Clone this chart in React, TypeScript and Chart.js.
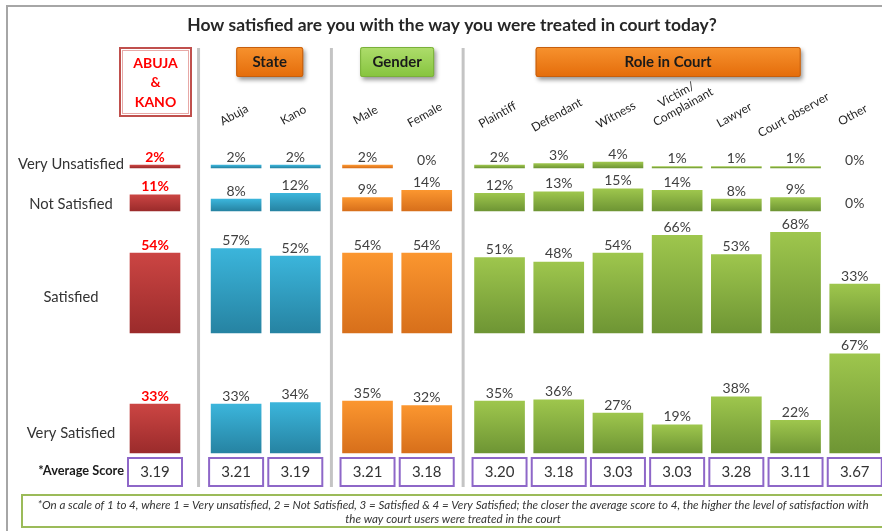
import React, { useEffect, useRef } from "react";
import { Chart, registerables } from "chart.js";

Chart.register(...registerables);

// ---------- data ----------
const title = "How satisfied are you with the way you were treated in court today?";
const groupNames = ["ABUJA\n&\nKANO", "State", "Gender", "Role in Court"];
const categories = [
  "ABUJA & KANO",
  "Abuja",
  "Kano",
  "Male",
  "Female",
  "Plaintiff",
  "Defendant",
  "Witness",
  "Victim/\nComplainant",
  "Lawyer",
  "Court observer",
  "Other",
];
const categoryGroup = [0, 1, 1, 2, 2, 3, 3, 3, 3, 3, 3, 3];
const rowLabels = ["Very Unsatisfied", "Not Satisfied", "Satisfied", "Very Satisfied"];
const veryUnsatisfied = [2, 2, 2, 2, 0, 2, 3, 4, 1, 1, 1, 0];
const notSatisfied = [11, 8, 12, 9, 14, 12, 13, 15, 14, 8, 9, 0];
const satisfied = [54, 57, 52, 54, 54, 51, 48, 54, 66, 53, 68, 33];
const verySatisfied = [33, 33, 34, 35, 32, 35, 36, 27, 19, 38, 22, 67];
const averageScores = ["3.19", "3.21", "3.19", "3.21", "3.18", "3.20", "3.18", "3.03", "3.03", "3.28", "3.11", "3.67"];
const averageLabel = "*Average Score";
const footnote = [
  "*On a scale of 1 to 4, where 1 = Very unsatisfied, 2 = Not Satisfied, 3 = Satisfied & 4 = Very Satisfied; the closer the average score to 4, the higher the level of satisfaction with",
  "the way court users were treated in the court",
];

const rows = [veryUnsatisfied, notSatisfied, satisfied, verySatisfied];

// ---------- layout / style ----------
const W = 882;
const H = 531;
const X_ORIGIN = 155;
const PX_PER_UNIT = 59.2;
const GROUP_GAP = [0, 0.37, 0.22, 0.23];
const PX_PER_PCT = 1.48;
const ROW_BASE = [168, 211, 333, 453];
const ROW_LABEL_Y = [164, 204, 297, 433];
const FONT = 'Lato, "Open Sans", sans-serif';
const BAR_COLORS = [
  ["#cb4543", "#9b2b2b"],
  ["#3bb5db", "#2683a2"],
  ["#fb962f", "#d76f1b"],
  ["#9ec64d", "#6e9534"],
];
const HEADER_W = [0, 67, 74, 265];
const HEADER_DX = [0, 4, 0, -9];

const xPositions = (() => {
  const out: number[] = [];
  let gap = 0;
  let prevG = 0;
  categories.forEach((_, i) => {
    const g = categoryGroup[i];
    if (g !== prevG) {
      for (let k = prevG + 1; k <= g; k++) gap += GROUP_GAP[k];
      prevG = g;
    }
    out.push(i + gap);
  });
  return out;
})();

function fitFont(ctx: CanvasRenderingContext2D, text: string, style: string, target: number) {
  ctx.font = `${style} 20px ${FONT}`;
  const w = ctx.measureText(text).width;
  const size = (20 * target) / w;
  ctx.font = `${style} ${size}px ${FONT}`;
}

function roundRect(ctx: CanvasRenderingContext2D, x: number, y: number, w: number, h: number, r: number) {
  ctx.beginPath();
  ctx.moveTo(x + r, y);
  ctx.lineTo(x + w - r, y);
  ctx.quadraticCurveTo(x + w, y, x + w, y + r);
  ctx.lineTo(x + w, y + h - r);
  ctx.quadraticCurveTo(x + w, y + h, x + w - r, y + h);
  ctx.lineTo(x + r, y + h);
  ctx.quadraticCurveTo(x, y + h, x, y + h - r);
  ctx.lineTo(x, y + r);
  ctx.quadraticCurveTo(x, y, x + r, y);
  ctx.closePath();
}

const decorPlugin = {
  id: "decor",
  beforeDraw(chart: any) {
    const ctx: CanvasRenderingContext2D = chart.ctx;
    ctx.save();
    ctx.fillStyle = "#ffffff";
    ctx.fillRect(0, 0, W, H);
    ctx.restore();
  },
  beforeDatasetsDraw(chart: any) {
    const ctx: CanvasRenderingContext2D = chart.ctx;
    const xs = chart.scales.x;
    const px = xPositions.map((p) => xs.getPixelForValue(p));
    ctx.save();

    // outer frame
    ctx.strokeStyle = "#a6a6a6";
    ctx.lineWidth = 2;
    ctx.beginPath();
    ctx.moveTo(7, H + 2);
    ctx.lineTo(7, 6);
    ctx.lineTo(W + 2, 6);
    ctx.stroke();

    // title
    ctx.fillStyle = "#262626";
    ctx.textAlign = "center";
    ctx.textBaseline = "middle";
    fitFont(ctx, title, "bold", 530);
    ctx.fillText(title, 452, 25);

    // separators
    ctx.strokeStyle = "#c4c4c4";
    ctx.lineWidth = 3;
    for (let i = 1; i < categories.length; i++) {
      if (categoryGroup[i] !== categoryGroup[i - 1]) {
        const sx = (px[i] + px[i - 1]) / 2 + (categoryGroup[i] === 1 ? 3 : 0);
        ctx.beginPath();
        ctx.moveTo(sx, 48);
        ctx.lineTo(sx, 487);
        ctx.stroke();
      }
    }

    // group headers
    groupNames.forEach((name, g) => {
      const idx = categoryGroup.map((c, i) => (c === g ? i : -1)).filter((i) => i >= 0);
      const cx = (px[idx[0]] + px[idx[idx.length - 1]]) / 2 + HEADER_DX[g];
      if (g === 0) {
        ctx.lineWidth = 2;
        ctx.strokeStyle = "#c0504d";
        ctx.strokeRect(cx - 35, 48, 71, 68);
        ctx.lineWidth = 1;
        ctx.strokeStyle = "#e8a8a6";
        ctx.strokeRect(cx - 32.5, 50.5, 66, 63);
        ctx.fillStyle = "#ff0000";
        ctx.font = `bold 14px ${FONT}`;
        name.split("\n").forEach((line, li) => ctx.fillText(line, cx + 0.5, 63 + li * 19.5));
        return;
      }
      const w = HEADER_W[g];
      const x0 = cx - w / 2;
      const grad = ctx.createLinearGradient(0, 47, 0, 77);
      if (g === 2) {
        grad.addColorStop(0, "#aedd6c");
        grad.addColorStop(1, "#86c43e");
      } else {
        grad.addColorStop(0, "#f7922e");
        grad.addColorStop(1, "#e46c0a");
      }
      ctx.save();
      ctx.shadowColor = "rgba(0,0,0,0.4)";
      ctx.shadowBlur = 4;
      ctx.shadowOffsetX = 2;
      ctx.shadowOffsetY = 3;
      roundRect(ctx, x0, 47, w, 30, 2);
      ctx.fillStyle = grad;
      ctx.fill();
      ctx.restore();
      ctx.strokeStyle = g === 2 ? "#7ab03a" : "#c65f0e";
      ctx.lineWidth = 1;
      roundRect(ctx, x0 + 0.5, 47.5, w - 1, 29, 2);
      ctx.stroke();
      ctx.fillStyle = "#1a1a1a";
      ctx.font = `bold 15px ${FONT}`;
      ctx.fillText(name, cx, 62.5);
    });

    // category labels (rotated)
    ctx.fillStyle = "#1f1f1f";
    ctx.font = `12px ${FONT}`;
    categories.forEach((cat, i) => {
      if (categoryGroup[i] === 0) return;
      const lines = cat.split("\n");
      const n = lines.length;
      ctx.save();
      ctx.translate(px[i] - 2 + (n - 1) * 8, 115 - (n - 1) * 8);
      ctx.rotate((-29 * Math.PI) / 180);
      lines.forEach((line, li) => ctx.fillText(line, 0, (li - (n - 1)) * 14));
      ctx.restore();
    });

    // row labels
    ctx.fillStyle = "#333333";
    fitFont(ctx, rowLabels[0], "", 106);
    rowLabels.forEach((lbl, r) => ctx.fillText(lbl, 71, ROW_LABEL_Y[r]));

    // average score
    ctx.textAlign = "right";
    ctx.fillStyle = "#1a1a1a";
    fitFont(ctx, averageLabel, "bold", 86);
    ctx.fillText(averageLabel, 124, 471);
    ctx.textAlign = "center";
    averageScores.forEach((s, i) => {
      ctx.strokeStyle = "#8e67c8";
      ctx.lineWidth = 2;
      ctx.strokeRect(px[i] - 27, 458, 54, 28);
      ctx.fillStyle = "#333333";
      ctx.font = `15px ${FONT}`;
      ctx.fillText(s, px[i], 472.5);
    });

    // footnote
    ctx.strokeStyle = "#9bbb59";
    ctx.lineWidth = 2;
    ctx.strokeRect(22, 495, 900, 32);
    ctx.fillStyle = "#333333";
    fitFont(ctx, footnote[0], "italic", 832);
    ctx.fillText(footnote[0], 453, 505);
    ctx.fillText(footnote[1], 453, 519);

    ctx.restore();
  },
  afterDatasetsDraw(chart: any) {
    const ctx: CanvasRenderingContext2D = chart.ctx;
    ctx.save();
    ctx.textAlign = "center";
    ctx.textBaseline = "middle";
    rows.forEach((vals, r) => {
      const meta = chart.getDatasetMeta(r);
      meta.data.forEach((bar: any, i: number) => {
        const red = categoryGroup[i] === 0;
        ctx.fillStyle = red ? "#ff0000" : "#404040";
        ctx.font = `${red ? "bold " : ""}14px ${FONT}`;
        ctx.fillText(`${vals[i]}%`, bar.x, bar.y - 8);
      });
    });
    ctx.restore();
  },
};

export default function App() {
  const ref = useRef<HTMLCanvasElement>(null);
  useEffect(() => {
    if (!ref.current) return;
    const xMin = -X_ORIGIN / PX_PER_UNIT;
    const scales: any = {
      x: {
        type: "linear",
        display: false,
        offset: false,
        grid: { offset: false },
        min: xMin,
        max: xMin + W / PX_PER_UNIT,
      },
    };
    rows.forEach((_, r) => {
      const max = ROW_BASE[r] / PX_PER_PCT;
      scales["y" + r] = { type: "linear", display: false, min: max - H / PX_PER_PCT, max };
    });
    const chart = new Chart(ref.current, {
      type: "bar",
      data: {
        datasets: rows.map((vals, r) => ({
          label: rowLabels[r],
          data: vals.map((v, i) => ({ x: xPositions[i], y: v })),
          yAxisID: "y" + r,
          xAxisID: "x",
          grouped: false,
          barThickness: 50,
          borderWidth: 0,
          backgroundColor: (c: any) => {
            const g = BAR_COLORS[categoryGroup[c.dataIndex] ?? 0];
            if (c.type !== "data") return g[0];
            if (vals[c.dataIndex] === 0) return "rgba(0,0,0,0)";
            const ys = c.chart.scales["y" + r];
            if (!ys) return g[0];
            const top = ys.getPixelForValue(vals[c.dataIndex]);
            const base = ys.getPixelForValue(0);
            if (!isFinite(top) || !isFinite(base) || Math.abs(base - top) < 1) return g[0];
            const grad = c.chart.ctx.createLinearGradient(0, top, 0, base);
            grad.addColorStop(0, g[0]);
            grad.addColorStop(1, g[1]);
            return grad;
          },
        })),
      } as any,
      options: {
        animation: false,
        responsive: false,
        devicePixelRatio: 1,
        layout: { padding: 0 },
        plugins: { legend: { display: false }, tooltip: { enabled: false } },
        scales,
      } as any,
      plugins: [decorPlugin],
    });
    return () => chart.destroy();
  }, []);
  return (
    <div style={{ position: "absolute", left: 0, top: 0, width: W, height: H }}>
      <canvas ref={ref} width={W} height={H} style={{ display: "block" }} />
    </div>
  );
}
